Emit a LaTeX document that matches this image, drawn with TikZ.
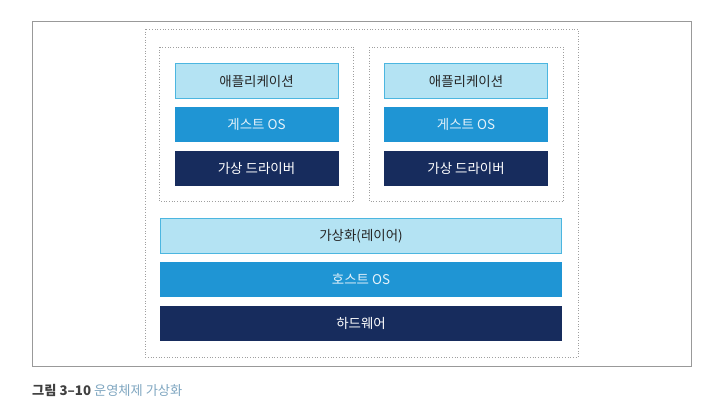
\documentclass[tikz,border=0pt]{standalone}
\usepackage{fontspec}
\setmainfont{Noto Sans CJK KR}
\usetikzlibrary{positioning}
\usepackage{xcolor}
\definecolor{layerlight}{HTML}{B4E3F3}
\definecolor{layerline}{HTML}{4CB6E0}
\definecolor{layermid}{HTML}{1F95D4}
\definecolor{layerdark}{HTML}{172C5D}
\definecolor{captionblue}{HTML}{7FA6C0}
\tikzset{
  layerbox/.style={rectangle, inner sep=0pt, minimum height=35bp,
    font=\fontsize{13.5}{15}\selectfont},
  applayer/.style={layerbox, fill=layerlight, draw=layerline, line width=0.8pt, text=black!85},
  oslayer/.style={layerbox, fill=layermid, text=white!88!layermid},
  hwlayer/.style={layerbox, fill=layerdark, text=white},
  vmframe/.style={draw=gray!75, dotted, line width=0.7pt},
}
% one guest machine: prefix, centre x
\newcommand{\guestvm}[2]{%
  \node[applayer, minimum width=163bp] (#1app) at (#2,81) {애플리케이션};
  \node[oslayer, minimum width=164bp, below=8bp of #1app] (#1os) {게스트 OS};
  \node[hwlayer, minimum width=164bp, below=8bp of #1os] (#1drv) {가상 드라이버};
  \draw[vmframe] ([xshift=-15bp,yshift=16bp]#1app.north west)
    rectangle ([xshift=15bp,yshift=-16bp]#1drv.south east);
}

\begin{document}
\begin{tikzpicture}[x=1bp, y=-1bp]
  \useasboundingbox (0,0) rectangle (713,408);
  \draw[gray!80, line width=1pt] (32,21) rectangle (691,366);
  \draw[vmframe] (145,29) rectangle (578,357);

  \guestvm{left}{256.5}
  \guestvm{right}{466}

  \node[applayer, minimum width=401bp] (layer) at (361,236) {가상화(레이어)};
  \node[oslayer, minimum width=402bp, below=8bp of layer] (hostos) {호스트 OS};
  \node[hwlayer, minimum width=402bp, below=8bp of hostos] (hw) {하드웨어};

  \node[anchor=west, inner sep=0pt, font=\fontsize{13.3}{15}\selectfont] (caption) at (32,390)
    {\textcolor{black!75}{\textbf{그림 3–10}} \textcolor{captionblue}{운영체제 가상화}};
\end{tikzpicture}
\end{document}
